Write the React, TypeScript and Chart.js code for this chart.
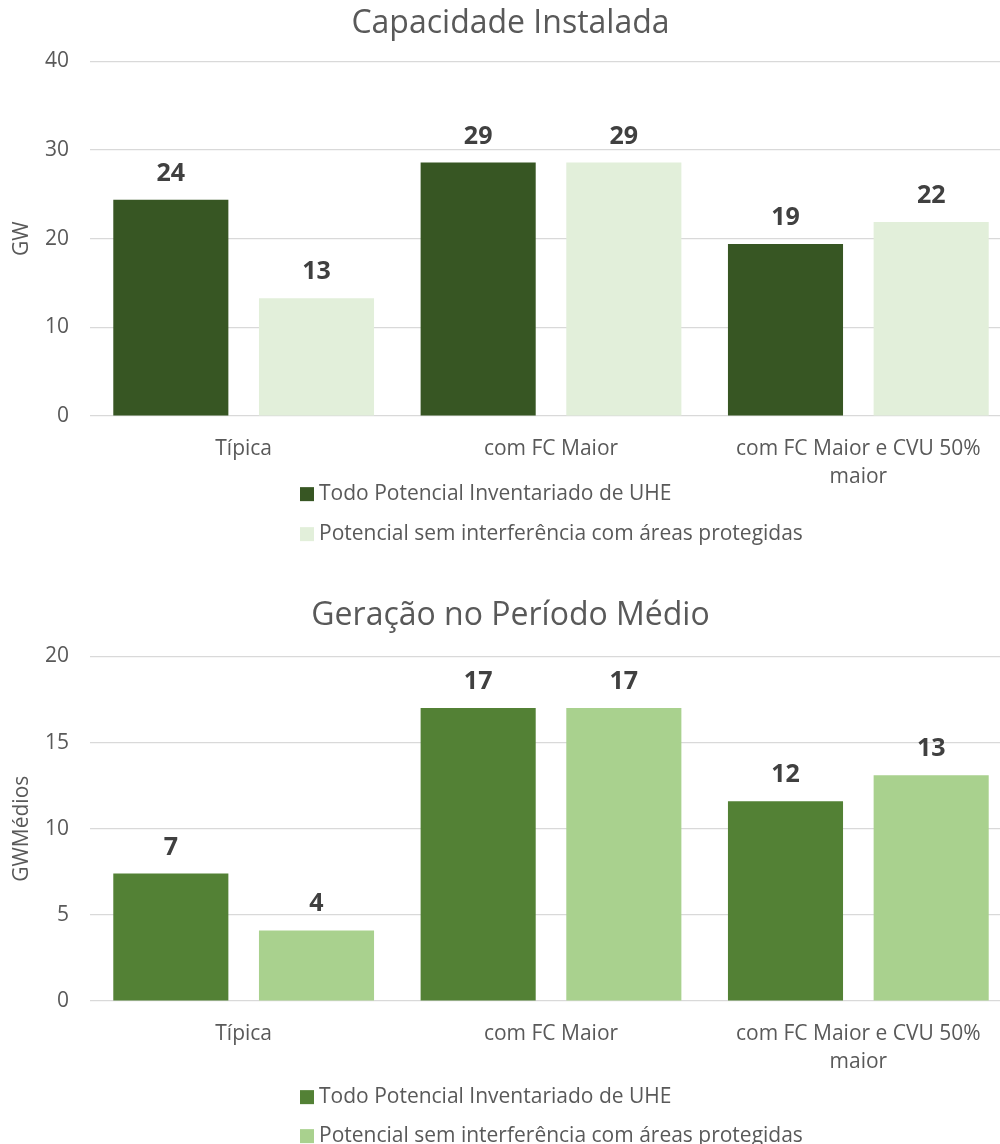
import React, { useEffect, useRef } from "react";
import { Chart, registerables } from "chart.js";

Chart.register(...registerables);

const categories: (string | string[])[] = ["Típica", "com FC Maior", ["com FC Maior e CVU 50%", "maior"]];
const seriesNames = ["Todo Potencial Inventariado de UHE", "Potencial sem interferência com áreas protegidas"];

const capTodo = [24.4, 28.6, 19.4];
const capSem = [13.3, 28.6, 21.9];
const capTicks = [0, 10, 20, 30, 40];

const genTodo = [7.4, 17.0, 11.6];
const genSem = [4.1, 17.0, 13.1];
const genTicks = [0, 5, 10, 15, 20];

const FONT = "'Open Sans', 'Noto Sans', sans-serif";
const TEXT = "#595959";
const GRID = "#D9D9D9";

const valueLabels = {
  id: "valueLabels",
  afterDatasetsDraw(chart: any) {
    const ctx = chart.ctx;
    ctx.save();
    ctx.font = `bold 25px ${FONT}`;
    ctx.fillStyle = "#404040";
    ctx.textAlign = "center";
    ctx.textBaseline = "alphabetic";
    chart.data.datasets.forEach((ds: any, i: number) => {
      const meta = chart.getDatasetMeta(i);
      meta.data.forEach((el: any, j: number) => {
        ctx.fillText(String(Math.round(ds.data[j])), el.x, el.y - 19);
      });
    });
    ctx.restore();
  },
};

const stackedLegend = {
  id: "stackedLegend",
  afterDraw(chart: any) {
    const o = chart.options.plugins.stackedLegend;
    if (!o) return;
    const ctx = chart.ctx;
    ctx.save();
    ctx.font = `21px ${FONT}`;
    ctx.textBaseline = "middle";
    ctx.textAlign = "left";
    chart.data.datasets.forEach((ds: any, i: number) => {
      const y = chart.chartArea.bottom + o.offset + i * o.gap;
      ctx.fillStyle = ds.backgroundColor;
      ctx.fillRect(o.x, y - 7, 14, 14);
      ctx.fillStyle = TEXT;
      ctx.fillText(ds.label, o.x + 19, y);
    });
    ctx.restore();
  },
};

type BlockProps = {
  title: string;
  yTitle: string;
  a: number[];
  b: number[];
  ticks: number[];
  colors: [string, string];
  top: number;
  height: number;
  padTop: number;
  titlePadBottom: number;
  padBottom: number;
  legendOffset: number;
  legendGap: number;
};

function ChartBlock(p: BlockProps) {
  const ref = useRef<HTMLCanvasElement | null>(null);
  useEffect(() => {
    if (!ref.current) return;
    const maxT = p.ticks[p.ticks.length - 1];
    const step = p.ticks[1] - p.ticks[0];
    const chart = new Chart(ref.current, {
      type: "bar",
      data: {
        labels: categories as any,
        datasets: [
          { label: seriesNames[0], data: p.a, backgroundColor: p.colors[0], barPercentage: 0.79, categoryPercentage: 0.948 },
          { label: seriesNames[1], data: p.b, backgroundColor: p.colors[1], barPercentage: 0.79, categoryPercentage: 0.948 },
        ],
      },
      options: {
        responsive: false,
        animation: false,
        layout: { padding: { top: p.padTop, left: 9, right: 0, bottom: p.padBottom } },
        plugins: {
          legend: { display: false },
          tooltip: { enabled: false },
          title: {
            display: true,
            text: p.title,
            color: TEXT,
            font: { family: FONT, size: 32, weight: "normal" },
            padding: { top: 0, bottom: p.titlePadBottom },
          },
          stackedLegend: { x: 300, offset: p.legendOffset, gap: p.legendGap },
        } as any,
        scales: {
          x: {
            grid: { display: false },
            border: { display: false },
            ticks: { color: TEXT, font: { family: FONT, size: 21, lineHeight: 1.33 } as any, padding: 11, maxRotation: 0, autoSkip: false },
          },
          y: {
            min: 0,
            max: maxT,
            ticks: { stepSize: step, color: TEXT, font: { family: FONT, size: 21 }, padding: 21 },
            grid: { color: GRID, lineWidth: 1.3, drawTicks: false },
            border: { display: false },
            title: { display: true, text: p.yTitle, color: TEXT, font: { family: FONT, size: 21 }, padding: 0 },
            afterFit(scale: any) {
              scale.width = 81;
            },
          },
        },
      },
      plugins: [valueLabels, stackedLegend],
    });
    return () => chart.destroy();
  }, []);
  return (
    <div style={{ position: "absolute", left: 0, top: p.top, width: 1012, height: p.height }}>
      <canvas ref={ref} width={1012} height={p.height} style={{ width: 1012, height: p.height, display: "block" }} />
    </div>
  );
}

export default function App() {
  return (
    <div style={{ position: "absolute", left: 0, top: 0, width: 1000, height: 1144, overflow: "hidden", background: "#fff" }}>
      <ChartBlock
        title="Capacidade Instalada"
        yTitle="GW"
        a={capTodo}
        b={capSem}
        ticks={capTicks}
        colors={["#375623", "#E2EFDA"]}
        top={0}
        height={572}
        padTop={5}
        titlePadBottom={18}
        padBottom={70}
        legendOffset={78}
        legendGap={40}
      />
      <ChartBlock
        title="Geração no Período Médio"
        yTitle="GWMédios"
        a={genTodo}
        b={genSem}
        ticks={genTicks}
        colors={["#538135", "#A9D18E"]}
        top={572}
        height={572}
        padTop={25}
        titlePadBottom={21}
        padBottom={57}
        legendOffset={96}
        legendGap={39}
      />
    </div>
  );
}
